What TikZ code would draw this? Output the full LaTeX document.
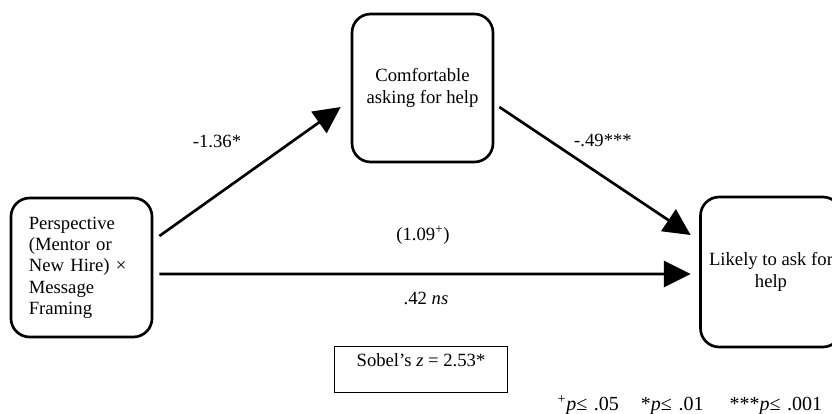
\documentclass[tikz,border=0pt]{standalone}
\usepackage{fontspec}
\setmainfont{Liberation Serif}
\usetikzlibrary{arrows.meta,positioning}

\begin{document}
\begin{tikzpicture}[x=0.75pt,y=-0.75pt,
        box/.style={draw,line width=2pt,rounded corners=14pt,minimum width=105.75pt,
            align=center,font=\fontsize{14}{16}\selectfont},
        arr/.style={line width=2pt,-{Triangle[length=20pt,width=19.5pt]}},
        lbl/.style={font=\fontsize{14}{16}\selectfont}]
            \path[use as bounding box,clip] (0,0) rectangle (832,414);
            \node[box,minimum height=104.25pt,text width=79pt,inner xsep=13.4pt,align=left] (persp) at (81.5,267.5)
                {Perspective\\(Mentor or\\New Hire) ×\\Message\\Framing};
            \node[box,minimum height=111pt] (comf) at (422.5,88) {Comfortable\\asking for help};
            \node[box,minimum height=112.5pt] (likely) at (771,272) {Likely to ask for\\help};
            \draw[arr] ([xshift=4.5pt,yshift=23.6pt]persp.east) -- ([xshift=-7.5pt,yshift=-14.25pt]comf.west);
            \draw[arr] ([xshift=3.75pt,yshift=-14.25pt]comf.east) -- ([xshift=-6.4pt,yshift=27.75pt]likely.west);
            \draw[arr] ([xshift=4.5pt,yshift=-4.9pt]persp.east) -- ([xshift=-6.4pt,yshift=-1.5pt]likely.west);
            \node[lbl] (a) at (217,141) {-1.36*};
            \node[lbl] (b) at (603,140) {-.49***};
            \node[lbl] (c) at (423,235) {(1.09\textsuperscript{+})};
            \node[lbl] (cp) at (426,298) {.42 \textit{ns}};
            \node[lbl,draw,line width=0.8pt,minimum width=130pt,text height=10pt,text depth=14pt,inner ysep=5pt] (sobel)
                at (421,369.5) {Sobel’s \textit{z} = 2.53*};
            \node[lbl,anchor=west,font=\fontsize{15}{17}\selectfont] (note) at (553,405)
                {\textsuperscript{+}\textit{p}≤\,\,.05\hspace{1.1em}*\textit{p}≤\,\,.01\hspace{1.3em}***\textit{p}≤\,\,.001};
        \end{tikzpicture}
\end{document}
